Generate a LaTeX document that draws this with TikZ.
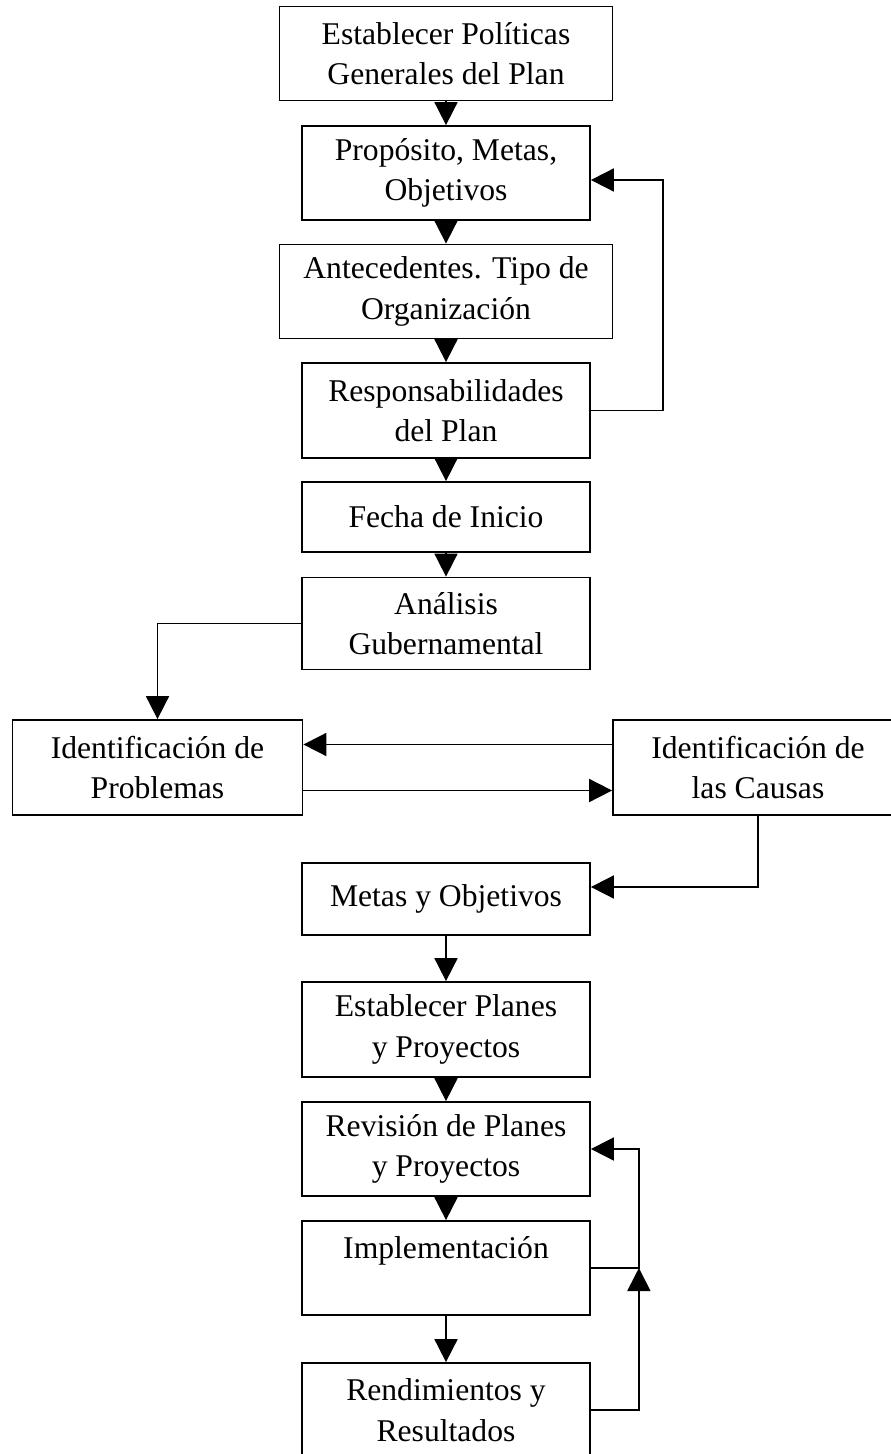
\documentclass[tikz,border=0pt]{standalone}
\usepackage{fontspec}
\setmainfont{Liberation Serif}
\usetikzlibrary{arrows.meta}
\begin{document}
\begin{tikzpicture}[scale=1, >={Triangle[length=0.46cm,width=0.46cm]}, line width=1pt]

        	\tikzstyle{box} = [draw, inner sep=2pt, minimum width=5.76cm, minimum height=1.88cm, align=center, font=\fontsize{18}{23}\selectfont];
        	\tikzstyle{wide} = [box, minimum width=6.66cm];
        	\tikzstyle{side} = [box, minimum width=5.8cm, minimum height=1.9cm];

        	\useasboundingbox (0,0) rectangle (17.82,-29.08);

        	\node[wide] (politicas) at (8.92,-1.07) {Establecer Políticas\\Generales del Plan};
        	\node[box, below of=politicas, node distance=2.39cm] (proposito) {Propósito, Metas,\\Objetivos};
        	\node[wide, below of=proposito, node distance=2.37cm] (antecedentes) {Antecedentes. Tipo de\\Organización};
        	\node[box, below of=antecedentes, node distance=2.38cm, minimum height=1.9cm] (responsab) {Responsabilidades\\del Plan};
        	\node[box, below of=responsab, node distance=2.13cm, minimum height=1.4cm] (fecha) {Fecha de Inicio};
        	\node[box, below of=fecha, node distance=2.13cm, minimum height=1.84cm] (analisis) {Análisis\\Gubernamental};
        	\node[side, below of=analisis, node distance=2.88cm, xshift=-5.77cm] (problemas) {Identificación de\\Problemas};
        	\node[side, below of=analisis, node distance=2.88cm, xshift=6.24cm] (causas) {Identificación de\\las Causas};
        	\node[box, below of=analisis, node distance=5.51cm, minimum height=1.44cm] (metas) {Metas y Objetivos};
        	\node[box, below of=metas, node distance=2.61cm, minimum height=1.9cm] (planes) {Establecer Planes\\y Proyectos};
        	\node[box, below of=planes, node distance=2.39cm] (revision) {Revisión de Planes\\y Proyectos};
        	\node[box, below of=revision, node distance=2.38cm] (implementacion) {Implementación\\~};
        	\node[box, below of=implementacion, node distance=2.84cm] (rendimientos) {Rendimientos y\\Resultados};

        	\coordinate (retorno) at ([xshift=0.96cm]implementacion.east);

        	\draw[->] (politicas) -- (proposito);
        	\draw[->] (proposito) -- (antecedentes);
        	\draw[->] (antecedentes) -- (responsab);
        	\draw[->] (responsab) -- (fecha);
        	\draw[->] (fecha) -- (analisis);
        	\draw[->] (responsab.east) -- ++(1.44cm,0) |- ([yshift=-0.14cm]proposito.east);
        	\draw[->] (analisis.west) -| (problemas.north);
        	\draw[->] ([yshift=0.46cm]causas.west) -- ([yshift=0.46cm]problemas.east);
        	\draw[->] ([yshift=-0.46cm]problemas.east) -- ([yshift=-0.46cm]causas.west);
        	\draw[->] (causas.south) |- ([yshift=0.24cm]metas.east);
        	\draw[->] (metas) -- (planes);
        	\draw[->] (planes) -- (revision);
        	\draw[->] (revision) -- (implementacion);
        	\draw[->] (implementacion) -- (rendimientos);
        	\draw[->] (implementacion.east) -- (retorno) |- (revision.east);
        	\draw[->] (rendimientos.east) -| (retorno);

    	\end{tikzpicture}
\end{document}
